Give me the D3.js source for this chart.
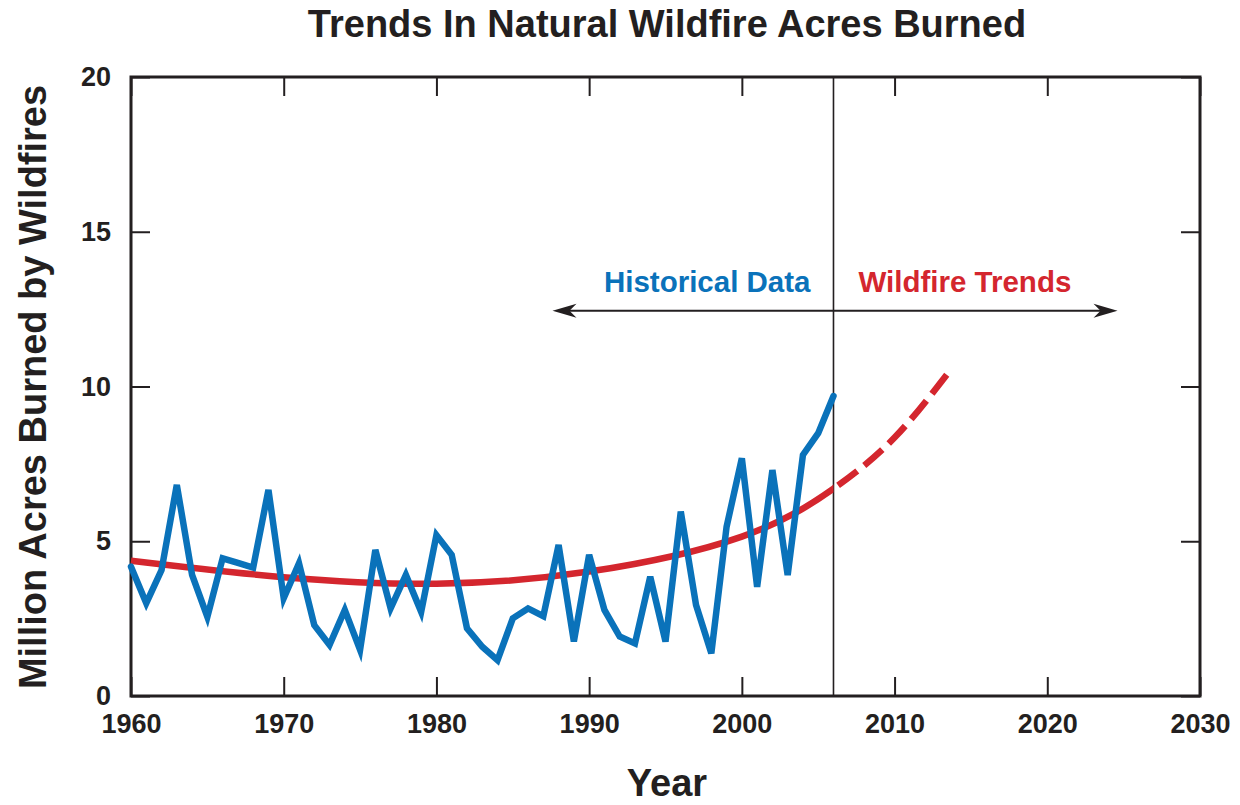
<!DOCTYPE html>
<html>
<head>
<meta charset="utf-8">
<script src="https://cdn.jsdelivr.net/npm/d3@7"></script>
<style>
  body { margin: 0; background: #fff; }
  text { font-family: "Liberation Sans", Arial, Helvetica, sans-serif; font-weight: bold; }
</style>
</head>
<body>
<svg id="chart" width="1240" height="805"></svg>
<script>
// historical acres burned (millions)
var years = [1960, 1961, 1962, 1963, 1964, 1965, 1966, 1967, 1968, 1969,
  1970, 1971, 1972, 1973, 1974, 1975, 1976, 1977, 1978, 1979,
  1980, 1981, 1982, 1983, 1984, 1985, 1986, 1987, 1988, 1989,
  1990, 1991, 1992, 1993, 1994, 1995, 1996, 1997, 1998, 1999,
  2000, 2001, 2002, 2003, 2004, 2005, 2006];
var acres = [4.18, 3.0, 4.07, 6.82, 3.91, 2.56, 4.45, 4.3, 4.15, 6.66,
  3.16, 4.29, 2.29, 1.65, 2.78, 1.49, 4.72, 2.83, 3.91, 2.72,
  5.2, 4.56, 2.19, 1.59, 1.16, 2.51, 2.83, 2.58, 4.88, 1.76,
  4.56, 2.78, 1.92, 1.7, 3.85, 1.76, 5.96, 2.94, 1.38, 5.47,
  7.68, 3.53, 7.3, 3.91, 7.79, 8.49, 9.69];

// fitted trend, solid up to splitYear, dashed after
var trendYears = [1960, 1970, 1980, 1990, 2000, 2006, 2010, 2013.6];
var trendValues = [4.37, 3.84, 3.63, 4.02, 5.15, 6.7, 8.35, 10.5];
var splitYear = 2006;

var xTicks = [1960, 1970, 1980, 1990, 2000, 2010, 2020, 2030];
var yTicks = [0, 5, 10, 15, 20];

var title = "Trends In Natural Wildfire Acres Burned";
var xTitle = "Year";
var yTitle = "Million Acres Burned by Wildfires";
var leftLabel = "Historical Data";
var rightLabel = "Wildfire Trends";
var arrowFrom = 1987.6, arrowTo = 2024.6, arrowLevel = 12.45, labelLevel = 13.05;

var blue = "#0a72ba", red = "#d4262e", ink = "#231f20";

var svg = d3.select("#chart");
var margin = { top: 77, right: 40, bottom: 109, left: 131 };
var width = 1240 - margin.left - margin.right;
var height = 805 - margin.top - margin.bottom;
var g = svg.append("g").attr("transform", "translate(" + margin.left + "," + margin.top + ")");

var x = d3.scaleLinear().domain([1960, 2030]).range([0, width]);
var y = d3.scaleLinear().domain([0, 20]).range([height, 0]);

// inward ticks on all four sides
var tickLen = 19;
g.append("g").attr("transform", "translate(0," + height + ")")
  .call(d3.axisBottom(x).tickValues(xTicks).tickSize(-tickLen).tickPadding(18).tickFormat(d3.format("d")))
  .call(function (a) { a.select(".domain").remove(); });
g.append("g")
  .call(d3.axisTop(x).tickValues(xTicks).tickSize(-tickLen).tickFormat(""))
  .call(function (a) { a.select(".domain").remove(); });
g.append("g")
  .call(d3.axisLeft(y).tickValues(yTicks).tickSize(-tickLen).tickPadding(20))
  .call(function (a) { a.select(".domain").remove(); });
g.append("g").attr("transform", "translate(" + width + ",0)")
  .call(d3.axisRight(y).tickValues(yTicks).tickSize(-tickLen).tickFormat(""))
  .call(function (a) { a.select(".domain").remove(); });

g.selectAll(".tick line").attr("stroke", ink).attr("stroke-width", 2);
g.selectAll(".tick text").attr("fill", ink).style("font-size", "27px");

g.append("rect")
  .attr("width", width).attr("height", height)
  .attr("fill", "none").attr("stroke", ink).attr("stroke-width", 3);

// divider between history and projection
g.append("line")
  .attr("x1", x(splitYear)).attr("x2", x(splitYear))
  .attr("y1", 0).attr("y2", height)
  .attr("stroke", ink).attr("stroke-width", 1.6);

// trend curve: one smooth path, clipped into a solid and a dashed part
var defs = svg.append("defs");
defs.append("clipPath").attr("id", "clip-past").append("rect")
  .attr("x", -20).attr("y", -20).attr("width", x(splitYear) + 20).attr("height", height + 40);
defs.append("clipPath").attr("id", "clip-future").append("rect")
  .attr("x", x(splitYear)).attr("y", -20).attr("width", width).attr("height", height + 40);

var trend = trendYears.map(function (d, i) { return { year: d, value: trendValues[i] }; });
var trendLine = d3.line()
  .x(function (d) { return x(d.year); })
  .y(function (d) { return y(d.value); })
  .curve(d3.curveNatural);

g.append("path")
  .datum(trend)
  .attr("d", trendLine)
  .attr("clip-path", "url(#clip-past)")
  .attr("fill", "none").attr("stroke", red).attr("stroke-width", 6.5);
g.append("path")
  .datum(trend)
  .attr("d", trendLine)
  .attr("clip-path", "url(#clip-future)")
  .attr("fill", "none").attr("stroke", red).attr("stroke-width", 6.5)
  .attr("stroke-dasharray", "24,9");

// historical series
var pastData = years.map(function (d, i) { return { year: d, value: acres[i] }; });
g.append("path")
  .datum(pastData)
  .attr("d", d3.line()
    .x(function (d) { return x(d.year); })
    .y(function (d) { return y(d.value); }))
  .attr("fill", "none").attr("stroke", blue).attr("stroke-width", 6.5)
  .attr("stroke-linejoin", "miter").attr("stroke-linecap", "round");

// double arrow with labels
var ay = y(arrowLevel), ax1 = x(arrowFrom), ax2 = x(arrowTo);
g.append("line")
  .attr("x1", ax1 + 10).attr("x2", ax2 - 10).attr("y1", ay).attr("y2", ay)
  .attr("stroke", ink).attr("stroke-width", 2);
function head(tip, dir) {
  return "M" + tip + "," + ay +
    "L" + (tip - dir * 24) + "," + (ay - 7) +
    "L" + (tip - dir * 17) + "," + ay +
    "L" + (tip - dir * 24) + "," + (ay + 7) + "Z";
}
g.append("path").attr("d", head(ax1, -1)).attr("fill", ink);
g.append("path").attr("d", head(ax2, 1)).attr("fill", ink);

g.append("text")
  .attr("x", x(splitYear) - 23).attr("y", y(labelLevel))
  .attr("text-anchor", "end").attr("fill", blue)
  .style("font-size", "29.5px").text(leftLabel);
g.append("text")
  .attr("x", x(splitYear) + 25).attr("y", y(labelLevel))
  .attr("text-anchor", "start").attr("fill", red)
  .style("font-size", "29.5px").text(rightLabel);

// titles
svg.append("text")
  .attr("x", 667).attr("y", 37)
  .attr("text-anchor", "middle").attr("fill", ink)
  .style("font-size", "38px").text(title);
svg.append("text")
  .attr("x", 667).attr("y", 796)
  .attr("text-anchor", "middle").attr("fill", ink)
  .style("font-size", "38px").text(xTitle);
svg.append("text")
  .attr("transform", "translate(46," + 387 + ") rotate(-90)")
  .attr("text-anchor", "middle").attr("fill", ink)
  .style("font-size", "38px").text(yTitle);
</script>
</body>
</html>
